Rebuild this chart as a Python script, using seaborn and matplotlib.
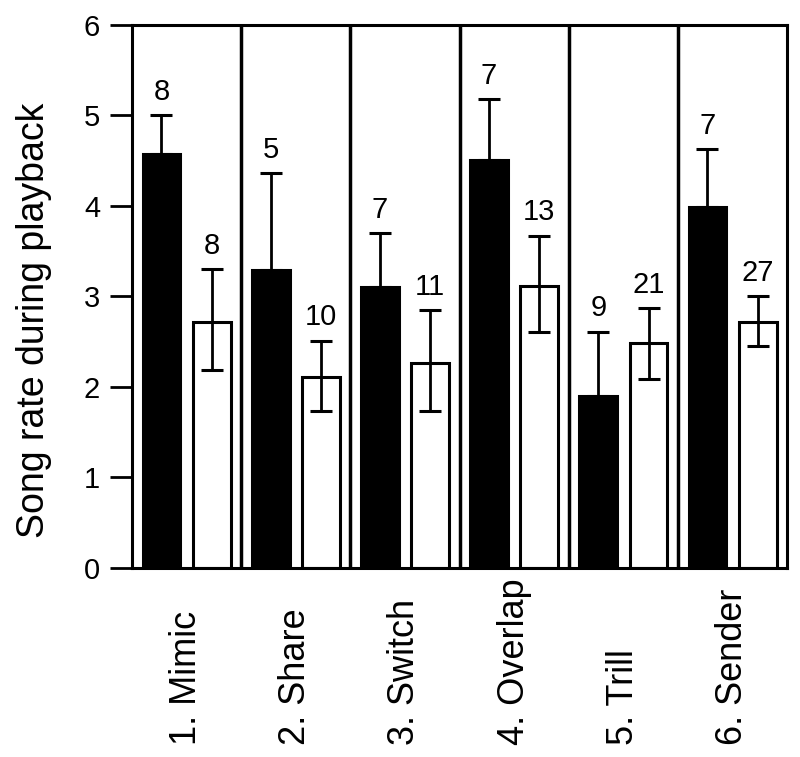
import matplotlib
matplotlib.use("Agg")
import matplotlib.pyplot as plt
import numpy as np
import pandas as pd
import seaborn as sns

# cue categories and the two treatments (black / white bars)
cues = ["1. Mimic", "2. Share", "3. Switch", "4. Overlap", "5. Trill", "6. Sender"]

black_mean = [4.57, 3.29, 3.10, 4.51, 1.90, 3.99]
black_hi = [5.00, 4.36, 3.70, 5.18, 2.61, 4.63]
black_n = [8, 5, 7, 7, 9, 7]

white_mean = [2.72, 2.11, 2.26, 3.12, 2.48, 2.72]
white_hi = [3.30, 2.51, 2.85, 3.67, 2.87, 3.00]
white_lo = [2.19, 1.73, 1.73, 2.61, 2.09, 2.45]
white_n = [8, 10, 11, 13, 21, 27]

df = pd.DataFrame({
    "cue": cues * 2,
    "group": ["black"] * len(cues) + ["white"] * len(cues),
    "rate": black_mean + white_mean,
})

sns.set_style("ticks")
plt.rcParams["font.family"] = ["Liberation Sans", "DejaVu Sans"]
plt.rcParams["text.color"] = "black"
plt.rcParams["axes.labelcolor"] = "black"
plt.rcParams["xtick.color"] = "black"
plt.rcParams["ytick.color"] = "black"

fig = plt.figure(figsize=(8, 7.57), dpi=100)
ax = fig.add_axes([0.165, 0.25, 0.819, 0.717])

sns.barplot(data=df, x="cue", y="rate", hue="group",
            palette={"black": "black", "white": "white"},
            edgecolor="black", linewidth=2.2, width=0.92, gap=0.25,
            saturation=1, errorbar=None, legend=False, ax=ax)

# error bars and sample sizes
sets = [(ax.containers[0], black_mean, black_hi, black_mean, black_n),
        (ax.containers[1], white_mean, white_hi, white_lo, white_n)]
for cont, mean, hi, lo, ns in sets:
    xs = [b.get_x() + b.get_width() / 2 for b in cont]
    yerr = [np.subtract(mean, lo), np.subtract(hi, mean)]
    ax.errorbar(xs, mean, yerr=yerr, fmt="none", ecolor="black",
                elinewidth=2, capsize=8, capthick=2.2, zorder=3)
    for x, h, n in zip(xs, hi, ns):
        ax.annotate(str(n), (x, h), xytext=(0, 11), textcoords="offset points",
                    ha="center", va="baseline", fontsize=21)

# panel separators
for x in np.arange(0.5, len(cues) - 0.5):
    ax.axvline(x, color="black", lw=2.5, zorder=4)

ax.set_xlim(-0.5, len(cues) - 0.5)
ax.set_ylim(0, 6)
ax.set_yticks(range(7))
ax.tick_params(axis="y", length=16, width=2, pad=7, labelsize=21,
               direction="out")
ax.tick_params(axis="x", length=0, labelbottom=False)
for s in ax.spines.values():
    s.set_visible(True)
    s.set_color("black")
    s.set_linewidth(2.2)

ax.set_xlabel("")
ax.set_ylabel("Song rate during playback", fontsize=27)
ax.yaxis.set_label_coords(-0.122, 0.455)

for i, c in enumerate(cues):
    ax.text(i, -0.326, c, transform=ax.get_xaxis_transform(), rotation=90,
            ha="center", va="bottom", fontsize=26)

fig.savefig("out.png", dpi=100)
